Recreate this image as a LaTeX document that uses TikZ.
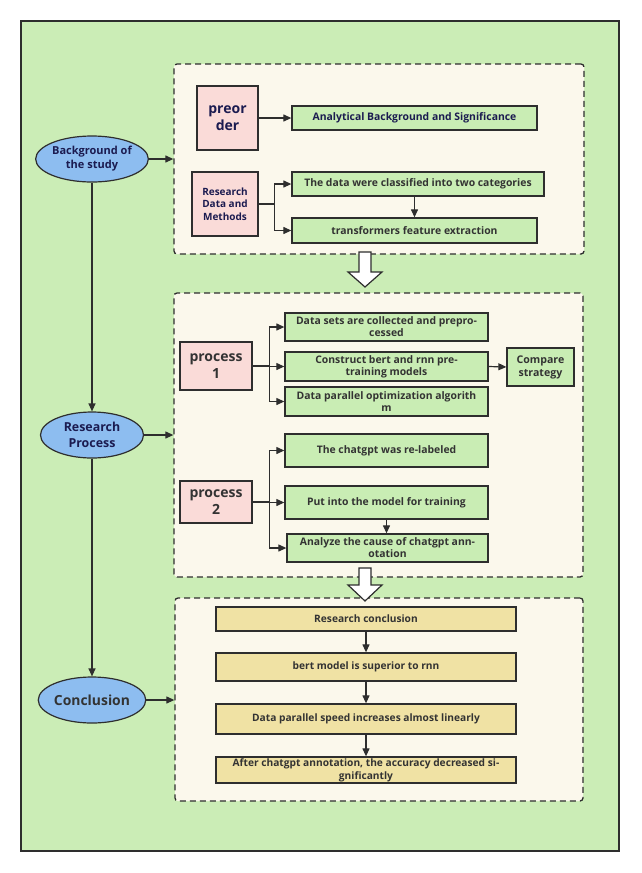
\documentclass[tikz,border=0pt]{standalone}
\usepackage{fontspec}
\setmainfont{Open Sans}
\usetikzlibrary{arrows.meta,shapes.geometric}
\definecolor{bggreen}{HTML}{CBEDB6}
\definecolor{cream}{HTML}{FBF8EC}
\definecolor{pinkf}{HTML}{FADBD8}
\definecolor{boxgreen}{HTML}{C9EDB4}
\definecolor{blueell}{HTML}{8DBDF0}
\definecolor{yellowf}{HTML}{F0E2A4}
\definecolor{ink}{HTML}{2E2E2E}
\definecolor{navy}{HTML}{1B1B50}
\definecolor{txt}{HTML}{333333}
\tikzset{
  every node/.style={font=\bfseries, inner sep=0pt, align=center},
  dbox/.style={draw=ink, fill=cream, dashed, dash pattern=on 6pt off 4pt, line width=1.3pt, rounded corners=3pt},
  pbox/.style={draw=ink, fill=pinkf, line width=1.3pt},
  gbox/.style={draw=ink, fill=boxgreen, line width=1.3pt, text=txt, font=\bfseries\fontsize{10.4}{12}\selectfont},
  ybox/.style={draw=ink, fill=yellowf, line width=1.3pt, text=txt, font=\bfseries\fontsize{10.2}{13}\selectfont, minimum width=300pt},
  ell/.style={ellipse, draw=ink, fill=blueell, line width=1.2pt, minimum width=103pt, minimum height=46pt},
  arr/.style={draw=ink, line width=1.2pt, -{Triangle[length=8pt,width=7pt]}},
  hollow/.style={draw=ink, fill=white, line width=1.2pt, line join=miter},
}
\begin{document}
\begin{tikzpicture}[x=1pt,y=-1pt]
\useasboundingbox (0,0) rectangle (641,873);
\draw[draw=ink, fill=bggreen, line width=1.6pt] (21,21) rectangle (619,851);

% dashed containers
\node[dbox, minimum width=410pt, minimum height=190pt] (d1) at (379,159) {};
\node[dbox, minimum width=409pt, minimum height=284pt] (d2) at (378.5,435) {};
\node[dbox, minimum width=408pt, minimum height=203pt] (d3) at (379,699.5) {};

% ellipses
\node[ell, text=navy, font=\bfseries\fontsize{11}{14}\selectfont] (bg) at (92,159) {Background of\\the study};
\node[ell, text=navy, font=\bfseries\fontsize{12.4}{16}\selectfont] (rp) at (92,435) {Research\\Process};
\node[ell, text=txt, font=\bfseries\fontsize{13.9}{16}\selectfont] (cn) at (92,700) {Conclusion};

% section 1
\node[pbox, minimum width=61pt, minimum height=64pt, text=navy, font=\bfseries\fontsize{14}{17}\selectfont] (pre) at (227.5,118) {preor\\der};
\node[gbox, text=navy, minimum width=245pt, minimum height=24pt] (ana1) at (414.5,118) {Analytical Background and Significance};
\node[pbox, minimum width=66pt, minimum height=64pt, text=navy, font=\bfseries\fontsize{10}{12.5}\selectfont] (rdm) at (225,204) {Research\\Data and\\Methods};
\node[gbox, minimum width=252pt, minimum height=24pt] (cls) at (418,184) {The data were classified into two categories};
\node[gbox, minimum width=245pt, minimum height=25pt] (trf) at (414.5,230.5) {transformers feature extraction};

% section 2
\node[pbox, minimum width=72pt, minimum height=48pt, text=txt, font=\bfseries\fontsize{14}{17}\selectfont] (p1) at (216,366) {process\\1};
\node[pbox, minimum width=72pt, minimum height=42pt, text=txt, font=\bfseries\fontsize{14}{17}\selectfont] (p2) at (216,502) {process\\2};
\node[gbox, minimum width=203pt, minimum height=28pt] (ds) at (386.5,327) {Data sets are collected and prepro-\\cessed};
\node[gbox, minimum width=203pt, minimum height=29pt] (cons) at (386.5,366.5) {Construct bert and rnn pre-\\training models};
\node[gbox, minimum width=203pt, minimum height=29pt] (dp) at (386.5,401.5) {Data parallel optimization algorith\\m};
\node[gbox, minimum width=67pt, minimum height=38pt, font=\bfseries\fontsize{10.6}{13}\selectfont] (cmp) at (540.5,367) {Compare\\strategy};
\node[gbox, minimum width=203pt, minimum height=33pt] (rl) at (386.5,450.5) {The chatgpt was re-labeled};
\node[gbox, minimum width=203pt, minimum height=33pt] (put) at (386.5,502.5) {Put into the model for training};
\node[gbox, minimum width=201pt, minimum height=28pt] (an) at (387.5,548) {Analyze the cause of chatgpt ann-\\otation};

% section 3
\node[ybox, minimum height=24pt] (rc) at (366,619) {Research conclusion};
\node[ybox, minimum height=28pt] (bm) at (366,667) {bert model is superior to rnn};
\node[ybox, minimum height=30pt] (dps) at (366,719) {Data parallel speed increases almost linearly};
\node[ybox, minimum height=26pt] (af) at (366,770) {After chatgpt annotation, the accuracy decreased si-\\gnificantly};

% main flow
\draw[arr] (bg.south) -- (rp.north);
\draw[arr] (rp.south) -- (cn.north);
\draw[arr] (bg.east) -- (bg.east -| d1.west);
\draw[arr] (rp.east) -- (rp.east -| d2.west);
\draw[arr] (cn.east) -- (cn.east -| d3.west);

% section 1 connectors
\draw[arr] (pre.east) -- (ana1.west);
\draw[arr] (rdm.east) -- ++(16,0) |- (cls.west);
\draw[arr] (rdm.east) -- ++(16,0) |- (trf.west);
\draw[arr] (trf.north |- cls.south) -- (trf.north);

% section 2 connectors
\draw[arr] (p1.east) -- ++(17,0) |- (ds.west);
\draw[arr] (p1.east) -- ++(17,0) |- (cons.west);
\draw[arr] (p1.east) -- ++(17,0) |- (dp.west);
\draw[arr] (cons.east) -- (cmp.west);
\draw[arr] (p2.east) -- ++(17,0) |- (rl.west);
\draw[arr] (p2.east) -- ++(17,0) |- (put.west);
\draw[arr] (p2.east) -- ++(17,0) |- (an.west);
\draw[arr] (put.south) -- (put.south |- an.north);

% section 3 connectors
\draw[arr] (rc) -- (bm);
\draw[arr] (bm) -- (dps);
\draw[arr] (dps) -- (af);

% hollow arrows
\coordinate (h1) at (365,252);
\coordinate (h2) at (365,568);
\draw[hollow] (h1) ++(-6,0) -- ++(0,20) -- ++(-11,0) -- ++(17,15) -- ++(17,-15) -- ++(-11,0) -- ++(0,-20) -- cycle;
\draw[hollow] (h2) ++(-6,0) -- ++(0,17) -- ++(-11,0) -- ++(17,16) -- ++(17,-16) -- ++(-11,0) -- ++(0,-17) -- cycle;
\end{tikzpicture}
\end{document}
